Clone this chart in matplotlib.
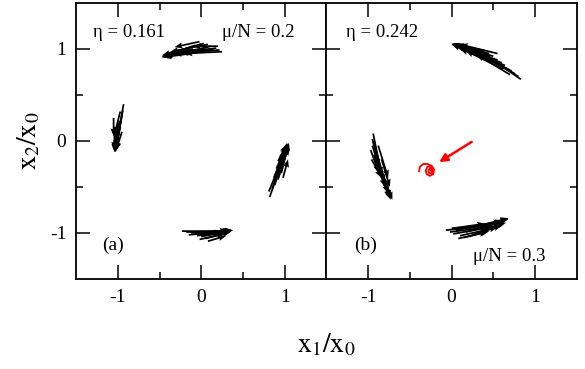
import numpy as np
import matplotlib
matplotlib.use('Agg')
import matplotlib.pyplot as plt

plt.rcParams['font.family'] = ['Liberation Serif', 'DejaVu Serif']
plt.rcParams['mathtext.fontset'] = 'stix'
plt.rcParams['axes.unicode_minus'] = False

# panel (a) arrow clusters: tail x, tail y, dx, dy
a_top_x = [0.25, 0.22, 0.18, 0.12, 0.08, 0.03, -0.02, -0.07, 0.15, 0.05, -0.1, 0.2, -0.05, 0.1]
a_top_y = [0.97, 0.99, 1.01, 1.03, 1.05, 1.06, 1.08, 1.04, 1.0, 1.0, 1.0, 1.03, 0.96, 0.98]
a_top_u = [-0.45, -0.55, -0.62, -0.6, -0.45, -0.5, -0.3, -0.4, -0.4, -0.5, -0.35, -0.3, -0.4, -0.35]
a_top_v = [-0.02, -0.05, -0.09, -0.12, -0.08, -0.13, -0.06, -0.12, -0.02, -0.08, -0.08, 0.0, -0.05, -0.03]

a_left_x = [-0.93, -0.94, -0.95, -0.96, -0.98, -1.0, -1.02, -0.97, -1.04, -0.99, -0.95, -1.05, -1.03, -0.97]
a_left_y = [0.40, 0.33, 0.28, 0.24, 0.22, 0.2, 0.15, 0.15, 0.1, 0.08, 0.1, 0.25, 0.05, 0.32]
a_left_u = [-0.1, -0.09, -0.08, -0.07, -0.05, -0.04, -0.03, -0.06, 0.0, -0.05, -0.07, 0.0, 0.0, -0.07]
a_left_v = [-0.5, -0.45, -0.4, -0.36, -0.3, -0.3, -0.25, -0.25, -0.22, -0.2, -0.2, -0.2, -0.15, -0.25]

a_right_x = [0.82, 0.81, 0.85, 0.88, 0.87, 0.92, 0.93, 0.96, 0.97, 0.92, 1.0, 0.9, 0.98]
a_right_y = [-0.61, -0.55, -0.52, -0.48, -0.4, -0.42, -0.33, -0.35, -0.25, -0.22, -0.2, -0.3, -0.4]
a_right_u = [0.22, 0.2, 0.18, 0.15, 0.13, 0.12, 0.1, 0.08, 0.08, 0.1, 0.05, 0.12, 0.06]
a_right_v = [0.58, 0.45, 0.5, 0.42, 0.3, 0.35, 0.3, 0.3, 0.22, 0.18, 0.18, 0.25, 0.2]

a_bot_x = [-0.23, -0.18, -0.12, -0.08, -0.05, 0.0, 0.05, 0.08, -0.15, 0.02, 0.1, 0.15, -0.02]
a_bot_y = [-0.98, -0.99, -1.0, -1.01, -1.03, -1.04, -1.06, -1.09, -1.02, -0.99, -1.02, -0.99, -1.07]
a_bot_u = [0.55, 0.5, 0.5, 0.45, 0.4, 0.38, 0.3, 0.22, 0.4, 0.33, 0.27, 0.2, 0.3]
a_bot_v = [0.0, 0.01, 0.03, 0.04, 0.05, 0.07, 0.07, 0.06, 0.03, 0.01, 0.05, 0.02, 0.06]

# panel (b) arrow clusters
b_top_x = [0.83, 0.8, 0.76, 0.72, 0.68, 0.64, 0.6, 0.55, 0.5, 0.45, 0.4, 0.62, 0.7, 0.5, 0.35, 0.55]
b_top_y = [0.67, 0.7, 0.73, 0.76, 0.78, 0.82, 0.85, 0.88, 0.92, 0.95, 0.98, 0.78, 0.72, 0.86, 0.92, 0.95]
b_top_u = [-0.45, -0.55, -0.6, -0.65, -0.6, -0.62, -0.6, -0.55, -0.5, -0.45, -0.35, -0.45, -0.4, -0.4, -0.3, -0.45]
b_top_v = [0.28, 0.3, 0.3, 0.29, 0.25, 0.24, 0.2, 0.17, 0.14, 0.1, 0.07, 0.2, 0.22, 0.14, 0.12, 0.1]

b_left_x = [-0.94, -0.93, -0.95, -0.91, -0.93, -0.89, -0.9, -0.86, -0.85, -0.97, -0.88, -0.96, -0.84, -0.95]
b_left_y = [0.08, 0.0, -0.05, -0.1, -0.15, -0.2, -0.25, -0.28, -0.35, -0.1, -0.05, -0.2, -0.2, 0.02]
b_left_u = [0.1, 0.12, 0.15, 0.15, 0.17, 0.16, 0.16, 0.15, 0.12, 0.1, 0.12, 0.12, 0.1, 0.08]
b_left_v = [-0.45, -0.45, -0.45, -0.45, -0.42, -0.42, -0.37, -0.36, -0.29, -0.25, -0.35, -0.2, -0.3, -0.3]

b_bot_x = [-0.07, -0.02, 0.02, 0.05, 0.1, 0.12, 0.17, 0.2, 0.25, 0.3, 0.08, 0.35, 0.4, 0.15, 0.0]
b_bot_y = [-0.97, -0.99, -1.01, -0.97, -1.03, -0.95, -0.99, -0.95, -1.02, -0.93, -1.06, -0.97, -0.94, -1.05, -0.95]
b_bot_u = [0.5, 0.5, 0.5, 0.55, 0.45, 0.5, 0.48, 0.48, 0.35, 0.38, 0.35, 0.3, 0.28, 0.3, 0.4]
b_bot_v = [0.05, 0.06, 0.08, 0.1, 0.09, 0.08, 0.12, 0.11, 0.1, 0.08, 0.07, 0.08, 0.1, 0.07, 0.05]

# red spiral (focus) in panel (b)
spiral_x = [-0.39, -0.38, -0.34, -0.29, -0.24, -0.21, -0.22, -0.26, -0.30, -0.31,
            -0.29, -0.25, -0.23, -0.24, -0.27, -0.28, -0.26, -0.25]
spiral_y = [-0.33, -0.28, -0.25, -0.25, -0.27, -0.31, -0.36, -0.38, -0.36, -0.32,
            -0.28, -0.28, -0.31, -0.35, -0.35, -0.32, -0.30, -0.32]
red_arrow_start = (0.24, -0.01)
red_arrow_end = (-0.15, -0.23)

ticks = [-1, 0, 1]
minor_ticks = [-0.5, 0.5]

fig = plt.figure(figsize=(5.85, 3.69), dpi=100)
ax1 = fig.add_axes([0.130, 0.244, 0.428, 0.748])
ax2 = fig.add_axes([0.558, 0.244, 0.428, 0.748])

def draw_cluster(ax, x, y, u, v):
    ax.quiver(x, y, u, v, angles='xy', scale_units='xy', scale=1,
              color='black', width=0.007, headwidth=3.5, headlength=4.5,
              headaxislength=4)

draw_cluster(ax1, a_top_x, a_top_y, a_top_u, a_top_v)
draw_cluster(ax1, a_left_x, a_left_y, a_left_u, a_left_v)
draw_cluster(ax1, a_right_x, a_right_y, a_right_u, a_right_v)
draw_cluster(ax1, a_bot_x, a_bot_y, a_bot_u, a_bot_v)

draw_cluster(ax2, b_top_x, b_top_y, b_top_u, b_top_v)
draw_cluster(ax2, b_left_x, b_left_y, b_left_u, b_left_v)
draw_cluster(ax2, b_bot_x, b_bot_y, b_bot_u, b_bot_v)
ax2.plot(spiral_x, spiral_y, color='red', lw=1.3)
ax2.annotate('', xy=red_arrow_end, xytext=red_arrow_start,
             arrowprops=dict(arrowstyle='-|>', color='red', lw=1.8,
                             mutation_scale=12, shrinkA=0, shrinkB=0))

for ax in (ax1, ax2):
    ax.set_xlim(-1.5, 1.5)
    ax.set_ylim(-1.5, 1.5)
    ax.set_xticks(ticks)
    ax.set_yticks(ticks)
    ax.set_xticks(minor_ticks, minor=True)
    ax.set_yticks(minor_ticks, minor=True)
    ax.tick_params(which='both', direction='in', top=True, right=True, width=1.1)
    ax.tick_params(which='major', length=10, labelsize=14, pad=7)
    ax.tick_params(which='minor', length=5)
    for s in ax.spines.values():
        s.set_linewidth(1.3)

ax2.tick_params(labelleft=False)

ax1.text(-1.3, 1.18, 'η = 0.161', fontsize=13.5, va='center')
ax1.text(0.25, 1.18, 'μ/N = 0.2', fontsize=13.5, va='center')
ax1.text(-1.19, -1.13, '(a)', fontsize=14, va='center')

ax2.text(-1.27, 1.18, 'η = 0.242', fontsize=13.5, va='center')
ax2.text(-1.17, -1.13, '(b)', fontsize=14, va='center')
ax2.text(0.26, -1.26, 'μ/N = 0.3', fontsize=13.5, va='center')

fig.text(0.558, 0.065, r'$\mathrm{x}_1/\mathrm{x}_0$', fontsize=20, ha='center', va='center')
fig.text(0.05, 0.62, r'$\mathrm{x}_2/\mathrm{x}_0$', fontsize=20, ha='center', va='center', rotation=90)

fig.savefig('out.png', dpi=100)
